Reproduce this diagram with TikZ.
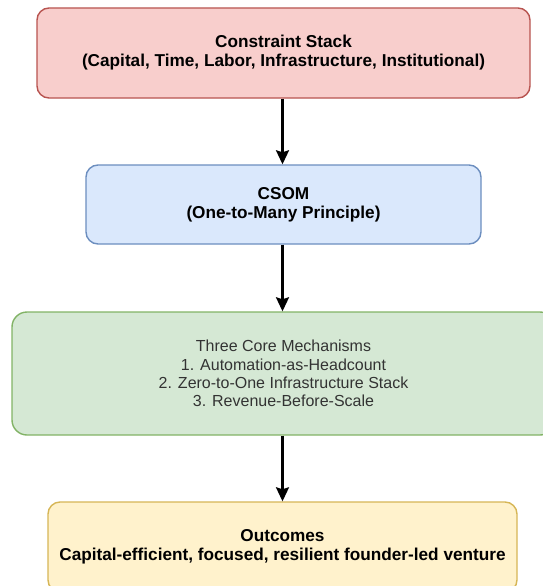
\documentclass[tikz,border=0pt]{standalone}
\usepackage{fontspec}
\setmainfont{Liberation Sans}
\usetikzlibrary{arrows.meta}

\definecolor{redfill}{HTML}{F8CECC}
\definecolor{redline}{HTML}{B85450}
\definecolor{bluefill}{HTML}{DAE8FC}
\definecolor{blueline}{HTML}{6C8EBF}
\definecolor{greenfill}{HTML}{D5E8D4}
\definecolor{greenline}{HTML}{82B366}
\definecolor{yellowfill}{HTML}{FFF2CC}
\definecolor{yellowline}{HTML}{D6B656}
\definecolor{textgray}{HTML}{333333}

\tikzset{
  flowbox/.style={rectangle, rounded corners=12pt, line width=1.4pt, align=center,
    inner sep=0pt, font=\fontsize{17.2}{19}\selectfont\bfseries},
  flowarrow/.style={line width=2.1pt, -{Stealth[length=14pt,width=13pt,inset=2pt]}}
}

\begin{document}
\begin{tikzpicture}[x=1pt, y=-1pt]
			\useasboundingbox (0,0) rectangle (543,586);
			\clip (0,0) rectangle (543,586);

			% Constraint stack
			\node[flowbox, fill=redfill, draw=redline, minimum width=493pt, minimum height=90pt]
				(constraints) at (283.5,53) {Constraint Stack\\(Capital, Time, Labor, Infrastructure, Institutional)};

			% CSOM
			\node[flowbox, fill=bluefill, draw=blueline, minimum width=395pt, minimum height=79pt]
				(csom) at (283.5,204.5) {CSOM\\(One-to-Many Principle)};

			% Mechanisms
			\node[flowbox, fill=greenfill, draw=greenline, rounded corners=15pt, minimum width=543pt, minimum height=123pt,
				text=textgray, font=\fontsize{16}{18.4}\selectfont]
				(mechanisms) at (283.5,373.5) {Three Core Mechanisms\\1. Automation-as-Headcount\\2. Zero-to-One Infrastructure Stack\\3. Revenue-Before-Scale};

			% Outcomes
			\node[flowbox, fill=yellowfill, draw=yellowline, minimum width=469pt, minimum height=90pt]
				(outcomes) at (282.5,547) {Outcomes\\Capital-efficient, focused, resilient founder-led venture};

			% Arrows
			\draw[flowarrow] (constraints.south -| 282.5,0) -- (csom.north -| 282.5,0);
			\draw[flowarrow] (csom.south -| 282.5,0) -- (mechanisms.north -| 282.5,0);
			\draw[flowarrow] (mechanisms.south -| 282.5,0) -- (outcomes.north);
		\end{tikzpicture}
\end{document}
